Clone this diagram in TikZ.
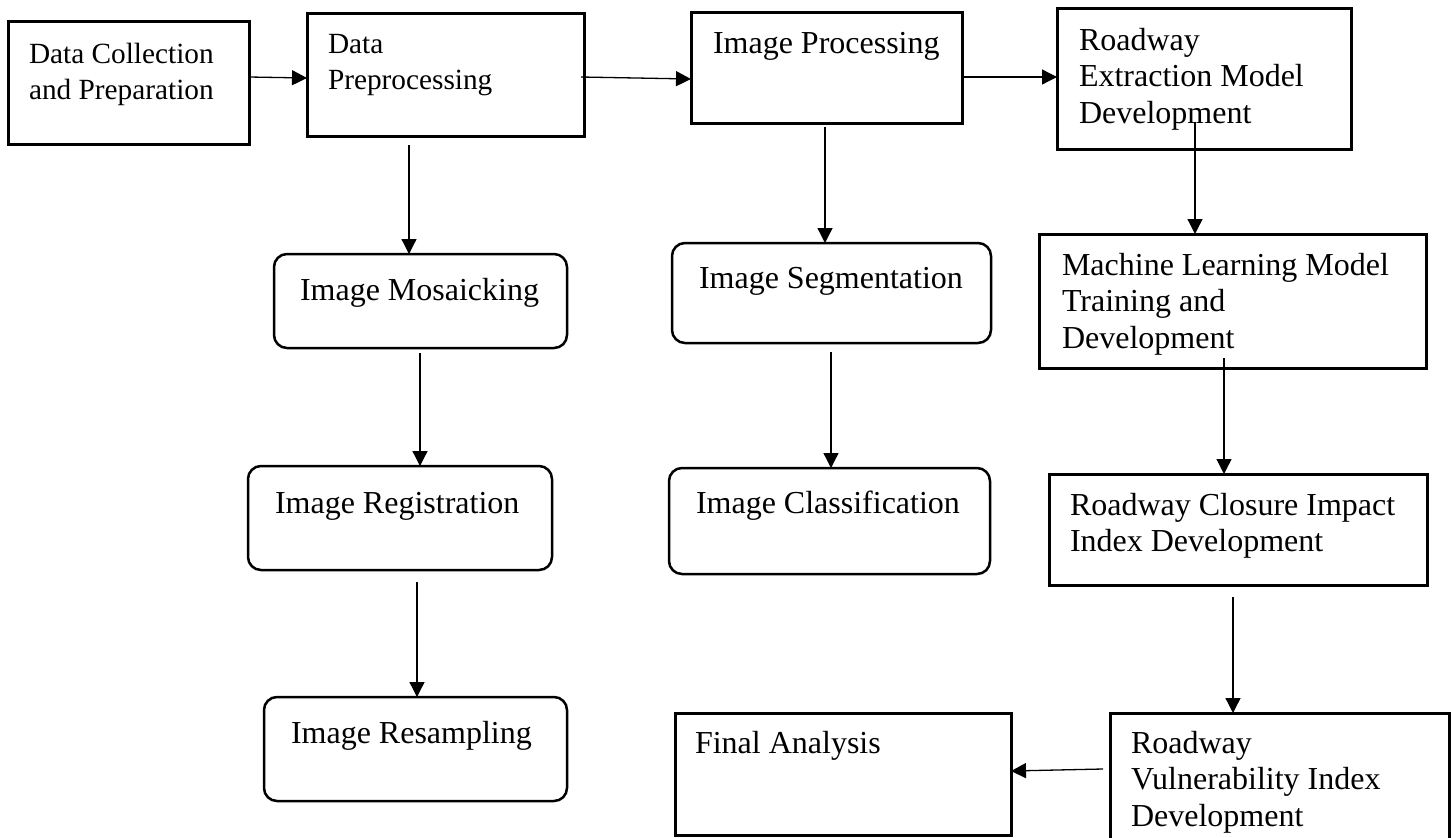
\documentclass[tikz,border=0pt]{standalone}
\usepackage{fontspec}
\setmainfont{Liberation Serif}
\usetikzlibrary{arrows.meta}

\tikzset{
  sqbox/.style={draw, line width=3pt, rectangle, inner sep=0pt, outer sep=0pt},
  rdbox/.style={draw, line width=2.5pt, rectangle, rounded corners=13pt, inner sep=0pt, outer sep=0pt},
  lbl/.style={anchor=north west, inner sep=0pt, outer sep=0pt, align=left,
              font=\fontsize{32}{36.5}\selectfont},
  lblsm/.style={lbl, font=\fontsize{29.3}{36.5}\selectfont},
  arr/.style={line width=1.3pt, -{Triangle[length=15pt,width=15pt]}},
}

\begin{document}
\begin{tikzpicture}[x=1pt, y=-1pt]
  \clip (0,0) rectangle (1454,838);
  \fill[white] (0,0) rectangle (1454,838);

  % top row
  \node[sqbox, minimum width=241pt, minimum height=123pt] (b1) at (128.5,82.5) {};
  \node[sqbox, minimum width=277pt, minimum height=123pt] (b2) at (445.5,74.5) {};
  \node[sqbox, minimum width=271pt, minimum height=111pt] (b3) at (826.5,67.5) {};
  \node[sqbox, minimum width=294pt, minimum height=141pt] (b4) at (1204,78.5) {};

  % right column
  \node[sqbox, minimum width=387pt, minimum height=134pt] (b5)  at (1232.5,301) {};
  \node[sqbox, minimum width=378pt, minimum height=111pt] (clo) at (1238,529.5) {};
  \node[sqbox, minimum width=339pt, minimum height=160pt] (vul) at (1279.5,793) {};
  \node[sqbox, minimum width=336pt, minimum height=122pt] (fin) at (843,774) {};

  % preprocessing branch
  \node[rdbox, minimum width=293pt, minimum height=94pt]  (mos) at (420.5,301) {};
  \node[rdbox, minimum width=304pt, minimum height=104pt] (reg) at (400,518) {};
  \node[rdbox, minimum width=303pt, minimum height=104pt] (res) at (415.5,749) {};

  % image processing branch
  \node[rdbox, minimum width=319pt, minimum height=100pt] (seg) at (831.5,293) {};
  \node[rdbox, minimum width=321pt, minimum height=106pt] (cls) at (829.5,521) {};

  % box texts
  \node[lblsm] (t1) at (29,37.45)    {\strut Data Collection\\and Preparation};
  \node[lblsm] (t2) at (328,27.45)   {\strut Data\\Preprocessing};
  \node[lbl] (t3)   at (713,27.45)   {\strut Image Processing};
  \node[lbl] (t4)   at (1079,24.45)  {\strut Roadway\\Extraction Model\\Development};
  \node[lbl] (t5)   at (1062,249.45) {\strut Machine Learning Model\\Training and\\Development};
  \node[lbl] (tmos) at (300,274.45)  {\strut Image Mosaicking};
  \node[lbl] (treg) at (275,487.45)  {\strut Image Registration};
  \node[lbl] (tres) at (291,717.45)  {\strut Image Resampling};
  \node[lbl] (tseg) at (699,262.45)  {\strut Image Segmentation};
  \node[lbl] (tcls) at (696,487.45)  {\strut Image Classification};
  \node[lbl] (tclo) at (1070,489.45) {\strut Roadway Closure Impact\\Index Development};
  \node[lbl] (tvul) at (1131,727.45) {\strut Roadway\\Vulnerability Index\\Development};
  \node[lbl] (tfin) at (695,727.45)  {\strut Final Analysis};

  % connectors along the top row
  \draw[arr] ([yshift=5.5pt]b1.east) -- ([yshift=-3.5pt]b2.west);
  \draw[arr] ([xshift=-3pt,yshift=-2.5pt]b2.east) -- ([yshift=-11.5pt]b3.west);
  \draw[arr] ([yshift=-9.5pt]b3.east) -- ([yshift=1.5pt]b4.west);

  % right column chain
  \draw[arr] ([xshift=-9pt,yshift=27pt]b4.south) -- ([xshift=-37.5pt]b5.north);
  \draw[arr] ([xshift=-8.5pt,yshift=10pt]b5.south) -- ([xshift=-14pt]clo.north);
  \draw[arr] ([xshift=-5pt,yshift=-12pt]clo.south) -- ([xshift=-46.5pt]vul.north);
  \draw[arr] ([xshift=-7pt,yshift=24pt]vul.west) -- ([yshift=3pt]fin.east);

  % preprocessing chain
  \draw[arr] ([xshift=-36.5pt,yshift=-9pt]b2.south) -- ([xshift=-11.5pt]mos.north);
  \draw[arr] ([xshift=-0.5pt,yshift=-5pt]mos.south) -- ([xshift=20pt]reg.north);
  \draw[arr] ([xshift=17pt,yshift=-12pt]reg.south) -- ([xshift=1.5pt]res.north);

  % image processing chain
  \draw[arr] ([xshift=-1.5pt,yshift=-4pt]b3.south) -- ([xshift=-6.5pt]seg.north);
  \draw[arr] ([xshift=-0.5pt,yshift=-9pt]seg.south) -- ([xshift=1.5pt]cls.north);
\end{tikzpicture}
\end{document}
